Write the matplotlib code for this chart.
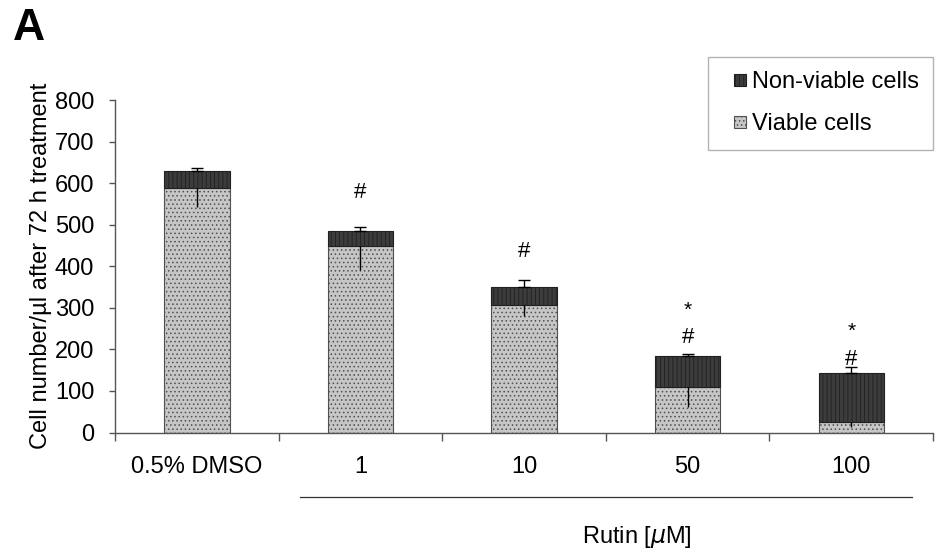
import numpy as np
import matplotlib
matplotlib.use('Agg')
import matplotlib.pyplot as plt
import matplotlib.transforms as mtransforms
from matplotlib.patches import Rectangle
from matplotlib.legend_handler import HandlerPatch

plt.rcParams['font.family'] = ['Liberation Sans', 'DejaVu Sans']
plt.rcParams['hatch.linewidth'] = 0.6

groups = ['0.5% DMSO', '1', '10', '50', '100']
viable = [588, 449, 307, 110, 26]
non_viable = [41, 36, 44, 73, 116]
err_total = [8, 10, 16, 7, 16]
err_viable = [45, 57, 26, 48, 12]
marks_hash = ['', '#', '#', '#', '#']
marks_star = ['', '', '', '*', '*']
# baselines of the significance marks, in data units
hash_y = [0, 564, 423, 216, 163]
star_y = [0, 0, 0, 281, 231]

x = np.arange(len(groups))
total = np.array(viable) + np.array(non_viable)

fig = plt.figure(figsize=(9.36, 5.56), dpi=100)
ax = fig.add_axes([0.1229, 0.2221, 0.874, 0.5980])

w = 0.4
b_viable = ax.bar(x, viable, w, color='#c6c6c6', edgecolor='#505050',
                  hatch='....', linewidth=0.8, label='Viable cells', zorder=2)
b_dead = ax.bar(x, non_viable, w, bottom=viable, color='#3c3c3c',
                edgecolor='#202020', hatch='||||', linewidth=0.8,
                label='Non-viable cells', zorder=2)

# upper error on the stack total, lower error on the viable part
ax.errorbar(x, total, yerr=[np.zeros(len(x)), err_total], fmt='none',
            ecolor='black', elinewidth=1, capsize=4, capthick=1, zorder=3)
ax.errorbar(x, viable, yerr=[err_viable, np.zeros(len(x))], fmt='none',
            ecolor='black', elinewidth=1, capsize=0, zorder=3)

for i in range(len(x)):
    if marks_hash[i]:
        ax.text(x[i], hash_y[i], marks_hash[i], ha='center', va='baseline',
                fontsize=16)
    if marks_star[i]:
        ax.text(x[i], star_y[i], marks_star[i], ha='center', va='baseline',
                fontsize=15)

ax.set_xlim(-0.5, len(groups) - 0.5)
ax.set_ylim(0, 800)
ax.set_yticks(np.arange(0, 801, 100))
ax.set_xticks(np.arange(-0.5, len(groups), 1.0))
ax.set_xticklabels([])
ax.set_xticks(x, minor=True)
ax.set_xticklabels(groups, minor=True)
ax.tick_params(axis='x', which='major', direction='out', length=6, width=1,
               color='#555555')
ax.tick_params(axis='x', which='minor', length=0, pad=17, labelsize=17)
ax.tick_params(axis='y', direction='out', length=4, width=1, color='#555555',
               labelsize=17, pad=11)
for s in ['top', 'right']:
    ax.spines[s].set_visible(False)
for s in ['left', 'bottom']:
    ax.spines[s].set_color('#555555')
    ax.spines[s].set_linewidth(1)

ax.set_ylabel('Cell number/\u00b5l after 72 h treatment', fontsize=17, labelpad=2)

# bracket line and label for the Rutin concentrations
trans = mtransforms.blended_transform_factory(ax.transData, ax.transAxes)
ax.plot([0.63, 4.37], [-0.194, -0.194], color='#333333', lw=0.9,
        transform=trans, clip_on=False)
ax.text(2.69, -0.314, 'Rutin [$\\mu$M]', transform=trans, ha='center',
        va='center', fontsize=17)


def small_square(legend, orig_handle, xdescent, ydescent, width, height, fontsize):
    s = 8.6
    return Rectangle((width - s - xdescent, (height - s) / 2 - ydescent), s, s)


leg = ax.legend([b_dead.patches[0], b_viable.patches[0]],
                ['Non-viable cells', 'Viable cells'], loc='upper right',
                bbox_to_anchor=(0.997, 0.8975), bbox_transform=fig.transFigure,
                fontsize=17, frameon=True, fancybox=False, edgecolor='#a0a0a0',
                handlelength=1.0, handleheight=0.6, handletextpad=0.25,
                labelspacing=0.86, borderpad=0.6, borderaxespad=0,
                handler_map={Rectangle: HandlerPatch(patch_func=small_square)})
leg.get_frame().set_linewidth(1)

fig.text(0.0139, 0.928, 'A', fontsize=32, fontweight='bold', va='baseline')

fig.savefig('out.png', dpi=100)
